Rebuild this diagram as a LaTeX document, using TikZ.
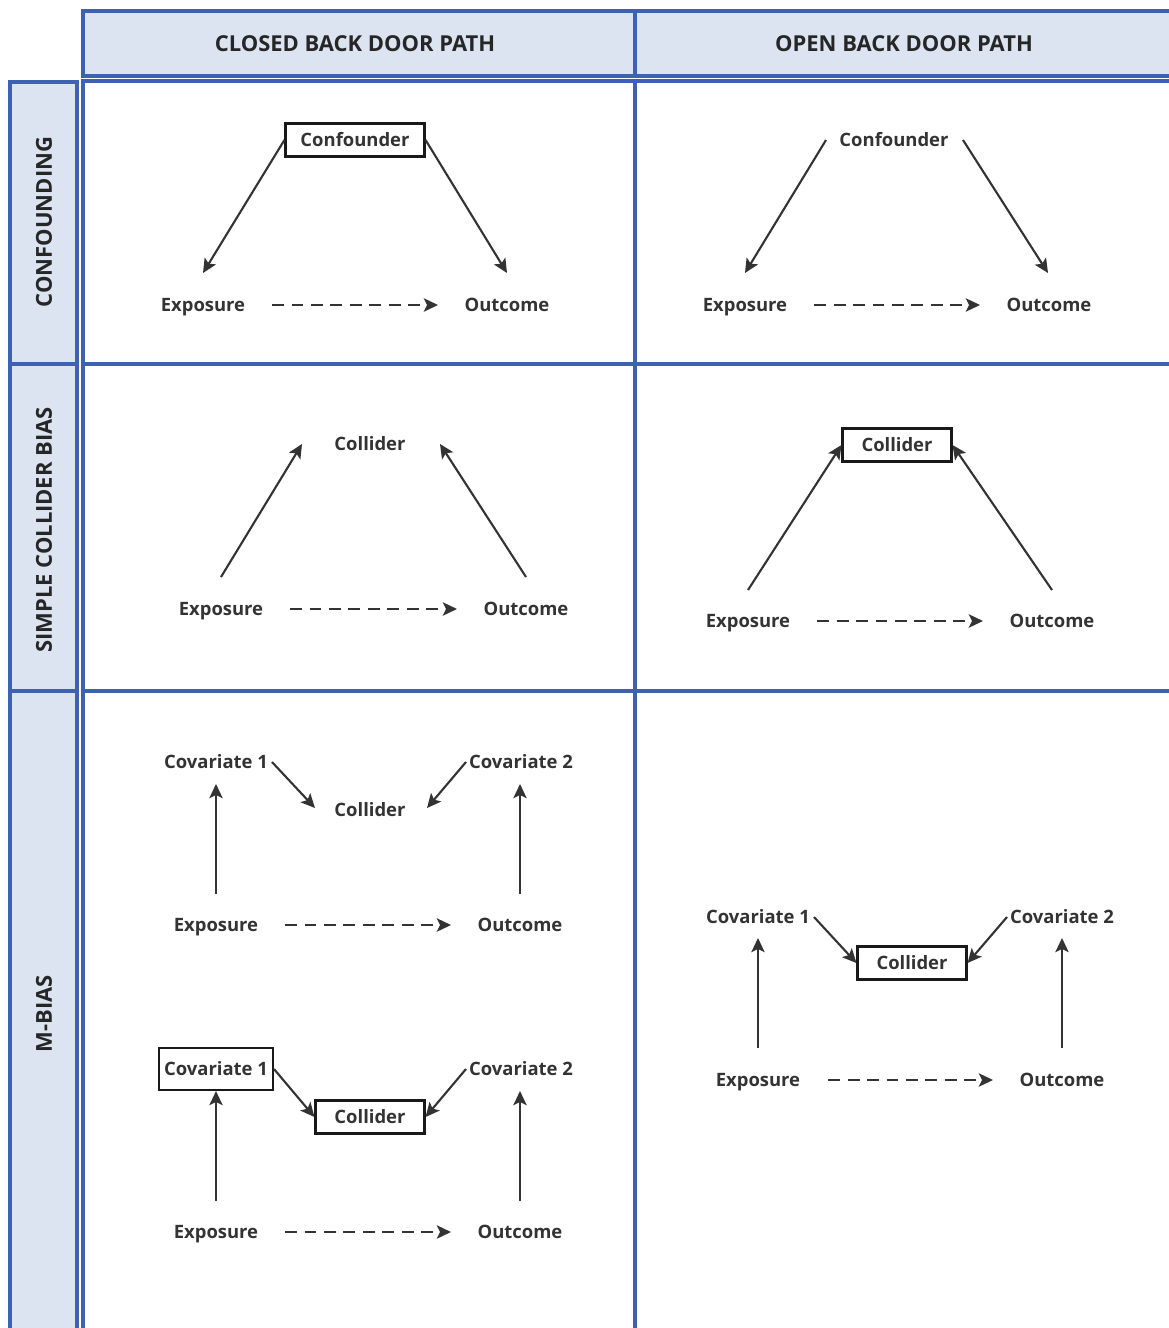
\documentclass[tikz,border=0pt]{standalone}
\usepackage{fontspec}
\setmainfont{Open Sans}
\usetikzlibrary{arrows.meta}
\definecolor{gridblue}{HTML}{3D62B3}
\definecolor{headfill}{HTML}{DCE3F1}
\definecolor{ink}{HTML}{333333}

\begin{document}
\begin{tikzpicture}[
  x=0.02cm, y=-0.02cm,
  font=\bfseries\fontsize{10.5}{12}\selectfont,
  lbl/.style={inner sep=0pt, text=ink, text height=10pt, text depth=2.4pt},
  box/.style={draw=black!90, line width=1.2pt, inner xsep=0.3cm, inner ysep=0pt,
              text height=10pt, text depth=2.4pt,
              minimum width=2.18cm, minimum height=0.66cm, text=ink},
  head/.style={font=\bfseries\fontsize{12.5}{14}\selectfont, text=black!85},
  cell/.style={draw=gridblue, line width=0.08cm},
  arr/.style={draw=ink, line width=1.2pt, -{Stealth[length=8pt, width=7.5pt, inset=1.8pt]}},
  dasharr/.style={arr, line width=1.5pt, dash pattern=on 0.24cm off 0.15cm}
]
\useasboundingbox (0,0) rectangle (1169,1328);
\clip (0,0) rectangle (1169,1328);

\filldraw[cell, fill=headfill] (83,11) rectangle (635,76);
\filldraw[cell, fill=headfill] (635,11) rectangle (1190,76);
\filldraw[cell, fill=headfill] (10,82) rectangle (77,364);
\filldraw[cell, fill=headfill] (10,364) rectangle (77,691);
\filldraw[cell, fill=headfill] (10,691) rectangle (77,1340);
\draw[cell] (83,81) rectangle (1190,1340);
\draw[cell] (635,81) -- (635,1340);
\draw[cell] (83,364) -- (1190,364);
\draw[cell] (83,691) -- (1190,691);

\node[head] (hclosed) at (355,44) {CLOSED BACK DOOR PATH};
\node[head] (hopen) at (904,44) {OPEN BACK DOOR PATH};
\node[head, rotate=90] (rconf) at (44,222) {CONFOUNDING};
\node[head, rotate=90] (rcoll) at (44,530) {SIMPLE COLLIDER BIAS};
\node[head, rotate=90] (rmbias) at (44,1014) {M-BIAS};

\node[box] (confA) at (355,140) {Confounder};
\node[lbl] (expA) at (203,305) {Exposure};
\node[lbl] (outA) at (507,305) {Outcome};
\draw[arr] (confA.west) -- ([shift={(0,-32)}]expA.center);
\draw[arr] (confA.east) -- ([shift={(0,-32)}]outA.center);
\draw[dasharr] ([shift={(69,0)}]expA.center) -- ([shift={(-69,0)}]outA.center);

\node[lbl] (confB) at (894,140) {Confounder};
\node[lbl] (expB) at (745,305) {Exposure};
\node[lbl] (outB) at (1049,305) {Outcome};
\draw[arr] ([shift={(-68,0)}]confB.center) -- ([shift={(0,-32)}]expB.center);
\draw[arr] ([shift={(69,0)}]confB.center) -- ([shift={(-1,-32)}]outB.center);
\draw[dasharr] ([shift={(69,0)}]expB.center) -- ([shift={(-69,0)}]outB.center);

\node[lbl] (colC) at (370,444) {Collider};
\node[lbl] (expC) at (221,609) {Exposure};
\node[lbl] (outC) at (526,609) {Outcome};
\draw[arr] ([shift={(0,-32)}]expC.center) -- ([shift={(-68,0)}]colC.center);
\draw[arr] ([shift={(0,-32)}]outC.center) -- ([shift={(70,0)}]colC.center);
\draw[dasharr] ([shift={(69,0)}]expC.center) -- ([shift={(-69,0)}]outC.center);

\node[box] (colD) at (897,445) {Collider};
\node[lbl] (expD) at (748,621) {Exposure};
\node[lbl] (outD) at (1052,621) {Outcome};
\draw[arr] ([shift={(0,-31)}]expD.center) -- (colD.west);
\draw[arr] ([shift={(0,-31)}]outD.center) -- (colD.east);
\draw[dasharr] ([shift={(69,0)}]expD.center) -- ([shift={(-69,0)}]outD.center);

\node[lbl] (cov1E) at (216,762) {Covariate 1};
\node[lbl] (cov2E) at (521,762) {Covariate 2};
\node[lbl] (colE) at (370,810) {Collider};
\node[lbl] (expE) at (216,925) {Exposure};
\node[lbl] (outE) at (520,925) {Outcome};
\draw[arr] ([shift={(0,-31)}]expE.center) -- ([shift={(0,22)}]cov1E.center);
\draw[arr] ([shift={(0,-31)}]outE.center) -- ([shift={(-1,22)}]cov2E.center);
\draw[arr] ([shift={(56,0)}]cov1E.center) -- ([shift={(-55,-2)}]colE.center);
\draw[arr] ([shift={(-55,0)}]cov2E.center) -- ([shift={(57,-2)}]colE.center);
\draw[dasharr] ([shift={(69,0)}]expE.center) -- ([shift={(-69,0)}]outE.center);

\node[box, inner xsep=0.1cm, minimum width=0pt, minimum height=0.84cm] (cov1F) at (216,1069) {Covariate 1};
\node[lbl] (cov2F) at (521,1069) {Covariate 2};
\node[box] (colF) at (370,1117) {Collider};
\node[lbl] (expF) at (216,1232) {Exposure};
\node[lbl] (outF) at (520,1232) {Outcome};
\draw[arr] ([shift={(0,-31)}]expF.center) -- (cov1F.south);
\draw[arr] ([shift={(0,-31)}]outF.center) -- ([shift={(-1,22)}]cov2F.center);
\draw[arr] (cov1F.east) -- (colF.west);
\draw[arr] ([shift={(-55,0)}]cov2F.center) -- (colF.east);
\draw[dasharr] ([shift={(69,0)}]expF.center) -- ([shift={(-69,0)}]outF.center);

\node[lbl] (cov1G) at (758,917) {Covariate 1};
\node[lbl] (cov2G) at (1062,917) {Covariate 2};
\node[box] (colG) at (912,963) {Collider};
\node[lbl] (expG) at (758,1080) {Exposure};
\node[lbl] (outG) at (1062,1080) {Outcome};
\draw[arr] ([shift={(0,-32)}]expG.center) -- ([shift={(0,21)}]cov1G.center);
\draw[arr] ([shift={(0,-32)}]outG.center) -- ([shift={(0,21)}]cov2G.center);
\draw[arr] ([shift={(56,0)}]cov1G.center) -- (colG.west);
\draw[arr] ([shift={(-55,0)}]cov2G.center) -- (colG.east);
\draw[dasharr] ([shift={(70,0)}]expG.center) -- ([shift={(-69,0)}]outG.center);
\end{tikzpicture}
\end{document}
